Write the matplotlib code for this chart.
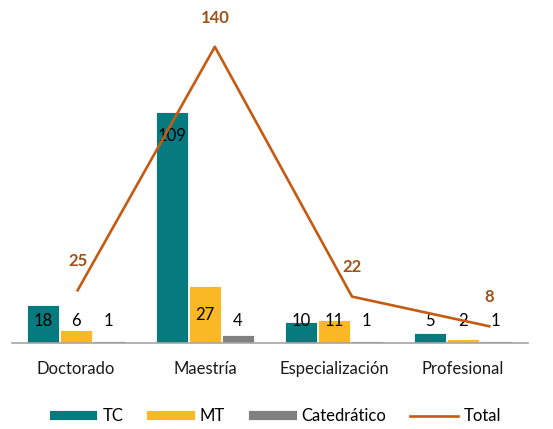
import numpy as np
import matplotlib
matplotlib.use('Agg')
import matplotlib.pyplot as plt

# datos
categorias = ['Doctorado', 'Maestría', 'Especialización', 'Profesional']
tc = [18, 109, 10, 5]
mt = [6, 27, 11, 2]
catedratico = [1, 4, 1, 1]
total = [25, 140, 22, 8]

plt.rcParams['font.family'] = ['Lato', 'DejaVu Sans']

c_tc = '#077A80'
c_mt = '#FBB726'
c_cat = '#808080'
c_tot = '#C55A11'
c_lab = '#A0521B'

fig = plt.figure(figsize=(5.53, 4.29), dpi=100)
ax = fig.add_axes([0.0208, 0.2, 0.9331, 0.7897])

x = np.arange(len(categorias))
w = 0.245
off = 0.255
series = [(tc, c_tc, 'TC', -off), (mt, c_mt, 'MT', 0), (catedratico, c_cat, 'Catedrático', off)]
for vals, col, name, o in series:
    ax.bar(x + o, vals, width=w, color=col, edgecolor='white', linewidth=0.6, label=name, zorder=2)
    for xi, v in zip(x, vals):
        if v > 50:
            yl = v - 11
        else:
            yl = max(v / 2, 10.4)
        ax.text(xi + o, yl, str(v), ha='center', va='center', fontsize=12, color='black', zorder=4)

ax.set_xlim(-0.5, 3.5)
ax.set_ylim(0, 160)
ax.set_xticks(x)
ax.set_xticklabels(categorias, fontsize=12, color='#1a1a1a')
ax.tick_params(axis='x', length=0, pad=13)
ax.set_yticks([])
for s in ['top', 'right', 'left']:
    ax.spines[s].set_visible(False)
ax.spines['bottom'].set_color('#A6A6A6')
ax.spines['bottom'].set_linewidth(1.2)

# la linea del total va en eje secundario
ax2 = ax.twiny()
ax2.set_xlim(-0.482, 3.279)
ax2.set_ylim(0, 160)
ln, = ax2.plot(x, total, color=c_tot, linewidth=1.9, label='Total', zorder=3)
for xi, v in zip(x, total):
    ax2.annotate(str(v), (xi, v), xytext=(0, 21), textcoords='offset points',
                 ha='center', va='center', fontsize=12, fontweight='bold', color=c_lab)
ax2.axis('off')

h, l = ax.get_legend_handles_labels()
fig.legend(h + [ln], l + ['Total'], loc='center', bbox_to_anchor=(0.497, 0.03), ncol=4,
           frameon=False, fontsize=12, handlelength=2.9, handleheight=0.5,
           columnspacing=1.4, handletextpad=0.3)

fig.savefig('out.png', dpi=100)
